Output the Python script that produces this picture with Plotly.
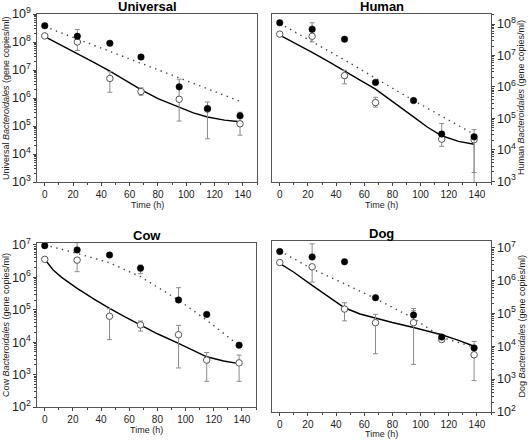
import numpy as np
import plotly.graph_objects as go

t = [0, 23, 46, 68, 95, 115, 138]
nan = float("nan")

# ---------------- Universal ----------------
uni_filled = [3.8e8, 1.6e8, 9e7, 2.9e7, 2.5e6, 4.2e5, 2.3e5]
uni_filled_hi = [nan, nan, nan, nan, nan, nan, nan]
uni_filled_lo = [nan, nan, nan, nan, nan, nan, nan]
uni_open = [1.65e8, 1.0e8, 5e6, 1.7e6, 9e5, 4e5, 1.2e5]
uni_open_hi = [nan, 2.8e8, 8.7e6, 2.3e6, 4.7e6, 7.2e5, 3.1e5]
uni_open_lo = [nan, 5e7, 1.6e6, 1.26e6, 1.5e5, 3.5e4, 4.7e4]
uni_fit_t = [0, 10, 23, 35, 46, 57, 68, 80, 95, 105, 115, 127, 138]
uni_fit_log = [8.19, 7.93, 7.59, 7.26, 6.96, 6.63, 6.30, 5.98, 5.66, 5.47, 5.32, 5.21, 5.15]
uni_dot_t = [0, 46, 95, 138]
uni_dot_log = [8.55, 7.67, 6.72, 5.88]

# ---------------- Human ----------------
hum_filled = [1.1e8, 6.9e7, 3.3e7, 1.4e6, 3.7e5, 3.2e4, 2.6e4]
hum_filled_hi = [nan, 1.1e8, nan, nan, nan, 6.9e4, 4.4e4]
hum_filled_lo = [nan, nan, nan, nan, nan, nan, 1.9e3]
hum_open = [4.8e7, 4.1e7, 2.3e6, 3.2e5, nan, 2.2e4, 2.1e4]
hum_open_hi = [nan, 5.7e7, 3.4e6, 4.7e5, nan, nan, nan]
hum_open_lo = [nan, 2.7e7, 1.26e6, 2.3e5, nan, 1.3e4, 5e2]
hum_fit_t = [0, 12, 23, 35, 46, 57, 68, 80, 95, 105, 115, 127, 138]
hum_fit_log = [7.65, 7.37, 7.10, 6.80, 6.50, 6.22, 5.93, 5.55, 5.05, 4.72, 4.45, 4.27, 4.18]
hum_dot_t = [0, 46, 95, 138]
hum_dot_log = [8.02, 6.86, 5.57, 4.50]

# ---------------- Cow ----------------
cow_filled = [9.5e6, 7e6, 4.9e6, 1.9e6, 2e5, 7.2e4, 8.1e3]
cow_filled_hi = [nan, 1.17e7, nan, 2.4e6, 4.8e5, nan, nan]
cow_filled_lo = [nan, nan, nan, 1.3e6, nan, nan, nan]
cow_open = [3.6e6, 3.4e6, 6.3e4, 3.4e4, 1.7e4, 2.8e3, 2.3e3]
cow_open_hi = [nan, nan, 1.1e5, 4.5e4, 3.3e4, 4.8e3, 4e3]
cow_open_lo = [nan, 1.5e6, 1.2e4, 2.2e4, 1.6e3, 6.2e2, 6.2e2]
cow_fit_t = [0, 3, 6, 12, 23, 35, 46, 57, 68, 80, 95, 105, 115, 127, 138]
cow_fit_log = [6.56, 6.38, 6.23, 6.00, 5.66, 5.33, 5.04, 4.78, 4.53, 4.26, 3.96, 3.75, 3.55, 3.42, 3.34]
cow_dot_t = [0, 23, 46, 68, 95, 115, 138]
cow_dot_log = [7.00, 6.74, 6.45, 6.02, 5.30, 4.68, 3.90]

# ---------------- Dog ----------------
dog_filled = [7.6e6, 5.2e6, 3.7e6, 3e5, 8.9e4, 1.9e4, 8.9e3]
dog_filled_hi = [nan, 1.3e7, nan, nan, 1.4e5, nan, 1.4e4]
dog_filled_lo = [nan, nan, nan, nan, nan, nan, nan]
dog_open = [3.5e6, 2.6e6, 1.35e5, 5.2e4, 5.2e4, 1.6e4, 5.5e3]
dog_open_hi = [nan, nan, 2.1e5, 9.3e4, 1.2e5, nan, nan]
dog_open_lo = [nan, 8.9e5, 5.9e4, 5.9e3, 2.8e3, nan, 9e2]
dog_fit_t = [0, 10, 23, 35, 46, 57, 68, 80, 95, 105, 115, 127, 138]
dog_fit_log = [6.52, 6.25, 5.85, 5.50, 5.17, 4.98, 4.85, 4.72, 4.57, 4.46, 4.35, 4.18, 4.00]
dog_dot_t = [0, 23, 46, 68, 95, 115, 138]
dog_dot_log = [6.90, 6.35, 5.90, 5.45, 4.85, 4.27, 3.97]

panels = [
    dict(name="Universal", f=uni_filled, fh=uni_filled_hi, fl=uni_filled_lo,
         o=uni_open, oh=uni_open_hi, ol=uni_open_lo,
         ft=uni_fit_t, fy=uni_fit_log, dt=uni_dot_t, dy=uni_dot_log,
         yr=[3, 9.0], side="left", dx=[37, 257], dy_px=[14, 182], xt=22.5),
    dict(name="Human", f=hum_filled, fh=hum_filled_hi, fl=hum_filled_lo,
         o=hum_open, oh=hum_open_hi, ol=hum_open_lo,
         ft=hum_fit_t, fy=hum_fit_log, dt=hum_dot_t, dy=hum_dot_log,
         yr=[2.98, 8.32], side="right", dx=[272, 491], dy_px=[14, 182], xt=22.5),
    dict(name="Cow", f=cow_filled, fh=cow_filled_hi, fl=cow_filled_lo,
         o=cow_open, oh=cow_open_hi, ol=cow_open_lo,
         ft=cow_fit_t, fy=cow_fit_log, dt=cow_dot_t, dy=cow_dot_log,
         yr=[2, 7.06], side="left", dx=[37, 256], dy_px=[243, 407], xt=22.5),
    dict(name="Dog", f=dog_filled, fh=dog_filled_hi, fl=dog_filled_lo,
         o=dog_open, oh=dog_open_hi, ol=dog_open_lo,
         ft=dog_fit_t, fy=dog_fit_log, dt=dog_dot_t, dy=dog_dot_log,
         yr=[2, 7.2], side="right", dx=[272, 491], dy_px=[241, 412], xt=22),
]

W, H = 528, 440
FONT = "Liberation Sans, Arial, sans-serif"
fig = go.Figure()
ERRC = "#8c8c8c"
TXT = "#222"


def errs(vals, hi, lo):
    v = np.array(vals, float)
    up = np.array(hi, float) - v
    dn = v - np.array(lo, float)
    return np.nan_to_num(up, nan=0), np.nan_to_num(dn, nan=0)


annotations = []
for i, p in enumerate(panels):
    k = "" if i == 0 else str(i + 1)
    xa, ya = "x" + k, "y" + k
    fig.add_trace(go.Scatter(x=p["ft"], y=[10 ** v for v in p["fy"]], mode="lines",
                             line=dict(color="black", width=1.4), xaxis=xa, yaxis=ya,
                             showlegend=False, hoverinfo="skip"))
    fig.add_trace(go.Scatter(x=p["dt"], y=[10 ** v for v in p["dy"]], mode="lines",
                             line=dict(color="#444", width=1.4, dash="1.4px,4.5px"), xaxis=xa, yaxis=ya,
                             showlegend=False, hoverinfo="skip"))
    up, dn = errs(p["o"], p["oh"], p["ol"])
    fig.add_trace(go.Scatter(x=t, y=p["o"], mode="markers",
                             marker=dict(symbol="circle", size=6.5, color="white",
                                         line=dict(color="#555", width=1)),
                             error_y=dict(type="data", symmetric=False, array=up, arrayminus=dn,
                                          color=ERRC, thickness=1, width=2.5),
                             xaxis=xa, yaxis=ya, showlegend=False))
    up, dn = errs(p["f"], p["fh"], p["fl"])
    fig.add_trace(go.Scatter(x=t, y=p["f"], mode="markers",
                             marker=dict(symbol="circle", size=6.5, color="black",
                                         line=dict(color="black", width=0.5)),
                             error_y=dict(type="data", symmetric=False, array=up, arrayminus=dn,
                                          color=ERRC, thickness=1, width=2.5),
                             xaxis=xa, yaxis=ya, showlegend=False))

    x0, x1 = p["dx"][0] / W, p["dx"][1] / W
    y0, y1 = 1 - p["dy_px"][1] / H, 1 - p["dy_px"][0] / H
    axkw = dict(showline=True, linecolor="#555", linewidth=1.2, mirror=True, automargin=False,
                ticks="outside", tickcolor="#444", ticklen=3, showgrid=False, zeroline=False,
                tickfont=dict(family=FONT, size=10, color=TXT))
    fig.update_layout(**{
        "xaxis" + k: dict(domain=[x0, x1], range=[-5.5, 150], dtick=20, tick0=0, anchor=ya,
                          minor=dict(dtick=10, tick0=0, ticks="outside", ticklen=2, tickcolor="#444"),
                          **axkw),
        "yaxis" + k: dict(domain=[y0, y1], type="log", range=p["yr"], dtick=1,
                          exponentformat="power", side=p["side"], anchor=xa,
                          minor=dict(dtick="D1", ticks="outside", ticklen=2, tickcolor="#444"),
                          **axkw),
    })
    annotations.append(dict(text="<b>" + p["name"] + "</b>", x=(x0 + x1) / 2,
                            y=1 - (p["dy_px"][0] - 8) / H,
                            xref="paper", yref="paper", xanchor="center", yanchor="middle",
                            showarrow=False, font=dict(family=FONT, size=13, color="black")))
    annotations.append(dict(text="Time (h)", x=(x0 + x1) / 2, y=1 - (p["dy_px"][1] + p["xt"]) / H,
                            xref="paper", yref="paper", xanchor="center", yanchor="middle",
                            showarrow=False, font=dict(family=FONT, size=9, color=TXT)))
    ytx = 6 if p["side"] == "left" else 521
    annotations.append(dict(text=p["name"] + " <i>Bacteroidales</i> (gene copies/ml)",
                            x=ytx / W, y=(y0 + y1) / 2, textangle=-90,
                            xref="paper", yref="paper", xanchor="center", yanchor="middle",
                            showarrow=False, font=dict(family=FONT, size=9, color=TXT)))

fig.update_layout(width=W, height=H, margin=dict(l=0, r=0, t=0, b=0),
                  paper_bgcolor="white", plot_bgcolor="white",
                  annotations=annotations, font=dict(family=FONT))
fig.write_html("out.html", config={"displayModeBar": False},
               post_script="document.body.style.margin='0px';document.body.style.overflow='hidden';")
